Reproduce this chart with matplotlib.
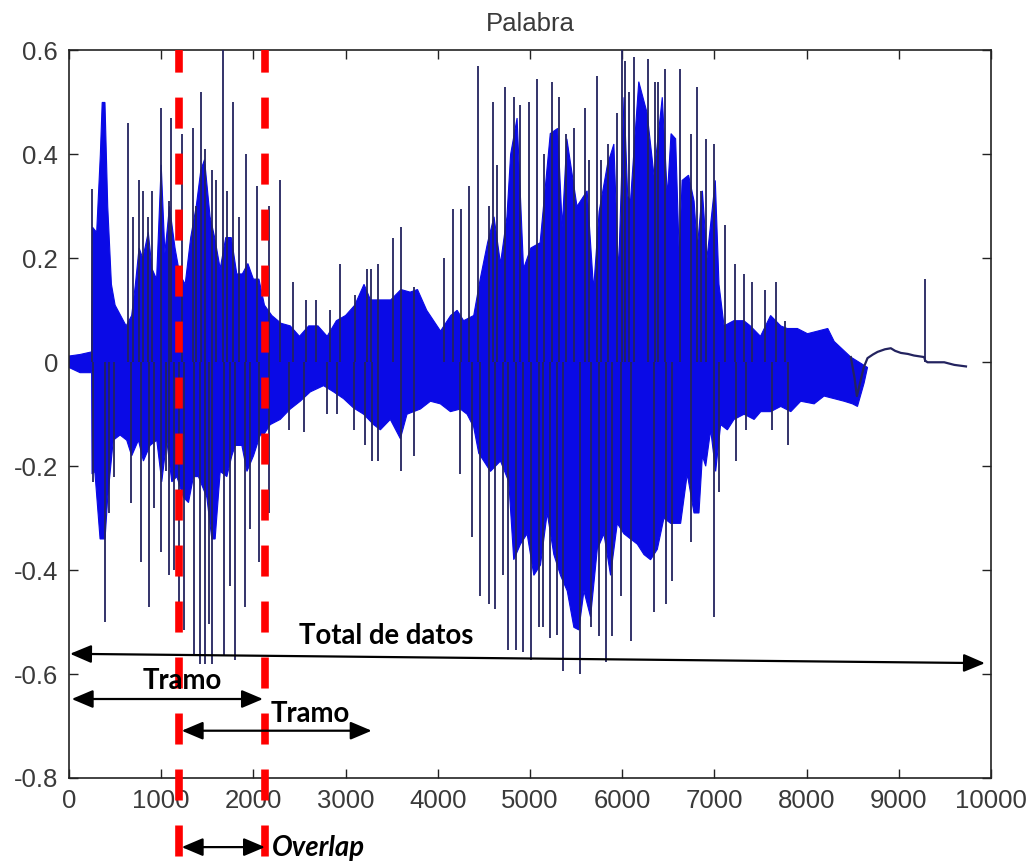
import matplotlib
matplotlib.use("Agg")
import matplotlib.pyplot as plt
import matplotlib.transforms as mtransforms

# envolvente superior del nucleo denso (muestra, amplitud)
up_x = [0, 120, 245, 255, 300, 340, 360, 390, 420, 460, 500, 560, 620, 680, 720, 760, 800, 860, 900, 950,
        1000, 1040, 1090, 1150, 1200, 1260, 1320, 1380, 1430, 1470, 1530, 1580, 1640, 1700, 1760, 1820,
        1880, 1940, 2000, 2060, 2120, 2200, 2300, 2400, 2500, 2600, 2700, 2800, 2900, 3000, 3100, 3200,
        3270, 3380, 3490, 3600, 3700, 3780, 3880, 4030, 4140, 4210, 4280, 4390, 4460, 4540, 4610, 4680,
        4750, 4790, 4860, 4930, 5010, 5110, 5220, 5300, 5350, 5400, 5510, 5620, 5690, 5750, 5840, 5910,
        5960, 6020, 6060, 6090, 6180, 6270, 6345, 6435, 6490, 6530, 6580, 6620, 6650, 6720, 6780, 6815,
        6870, 6920, 7010, 7050, 7105, 7210, 7320, 7390, 7500, 7610, 7720, 7790, 7900, 8010, 8120, 8230,
        8300, 8390, 8480]
up_y = [0.012, 0.015, 0.02, 0.26, 0.25, 0.40, 0.50, 0.50, 0.30, 0.15, 0.11, 0.09, 0.07, 0.09, 0.15, 0.22,
        0.20, 0.25, 0.18, 0.16, 0.38, 0.21, 0.30, 0.22, 0.17, 0.15, 0.24, 0.30, 0.37, 0.39, 0.28, 0.24,
        0.18, 0.24, 0.24, 0.17, 0.17, 0.19, 0.16, 0.16, 0.11, 0.09, 0.075, 0.07, 0.05, 0.07, 0.07, 0.05,
        0.08, 0.09, 0.11, 0.15, 0.12, 0.12, 0.12, 0.14, 0.135, 0.14, 0.10, 0.06, 0.09, 0.10, 0.08, 0.09,
        0.16, 0.23, 0.28, 0.19, 0.28, 0.40, 0.47, 0.18, 0.22, 0.23, 0.44, 0.45, 0.26, 0.43, 0.30, 0.33,
        0.14, 0.29, 0.38, 0.42, 0.17, 0.51, 0.32, 0.31, 0.54, 0.48, 0.36, 0.51, 0.32, 0.44, 0.43, 0.20,
        0.35, 0.36, 0.31, 0.22, 0.33, 0.20, 0.35, 0.15, 0.07, 0.08, 0.08, 0.07, 0.05, 0.09, 0.07, 0.065,
        0.065, 0.055, 0.06, 0.065, 0.04, 0.025, 0.01]

# envolvente inferior del nucleo denso
lo_x = [0, 120, 245, 250, 280, 337, 391, 420, 480, 554, 626, 680, 753, 807, 879, 952, 1006, 1060, 1115,
        1170, 1241, 1296, 1350, 1404, 1495, 1549, 1585, 1640, 1712, 1766, 1803, 1875, 1930, 2001, 2074,
        2110, 2182, 2291, 2400, 2508, 2617, 2761, 2870, 2978, 3087, 3196, 3304, 3377, 3485, 3594, 3666,
        3811, 3920, 4028, 4137, 4245, 4318, 4390, 4444, 4499, 4571, 4680, 4770, 4824, 4897, 4969, 5042,
        5114, 5187, 5259, 5331, 5404, 5476, 5530, 5585, 5657, 5730, 5802, 5874, 5947, 6019, 6091, 6164,
        6236, 6308, 6381, 6453, 6526, 6598, 6634, 6706, 6779, 6833, 6870, 6906, 6960, 7014, 7068, 7141,
        7213, 7322, 7431, 7503, 7611, 7720, 7829, 7937, 8082, 8190, 8299, 8408, 8498, 8552, 8624, 8661]
lo_y = [-0.01, -0.02, -0.02, -0.215, -0.21, -0.34, -0.34, -0.26, -0.15, -0.14, -0.15, -0.18, -0.15,
        -0.19, -0.16, -0.15, -0.23, -0.15, -0.23, -0.22, -0.26, -0.27, -0.22, -0.22, -0.26, -0.34, -0.34,
        -0.21, -0.22, -0.18, -0.16, -0.16, -0.21, -0.18, -0.14, -0.14, -0.12, -0.11, -0.09, -0.075,
        -0.057, -0.045, -0.057, -0.07, -0.088, -0.10, -0.12, -0.13, -0.11, -0.147, -0.10, -0.09, -0.075,
        -0.08, -0.095, -0.09, -0.10, -0.125, -0.175, -0.19, -0.21, -0.19, -0.23, -0.38, -0.35, -0.33,
        -0.41, -0.39, -0.29, -0.37, -0.41, -0.44, -0.51, -0.515, -0.44, -0.49, -0.36, -0.33, -0.41, -0.31,
        -0.33, -0.34, -0.35, -0.37, -0.38, -0.36, -0.30, -0.31, -0.31, -0.31, -0.215, -0.29, -0.29, -0.18,
        -0.20, -0.13, -0.21, -0.12, -0.13, -0.11, -0.10, -0.11, -0.095, -0.095, -0.085, -0.095, -0.075,
        -0.08, -0.065, -0.07, -0.075, -0.08, -0.085, -0.04, -0.01]

# picos positivos aislados
pk_up_x = [253, 644, 691, 764, 807, 861, 905, 999, 1089, 1108, 1223, 1343, 1379, 1430, 1477, 1549, 1596,
           1669, 1712, 1777, 1839, 1918, 2038, 2164, 2284, 2425, 2573, 2679, 2834, 2935, 3105, 3232, 3279,
           3348, 3510, 3605, 3746, 4064, 4162, 4253, 4343, 4434, 4553, 4600, 4643, 4734, 4832, 4897, 4987,
           5078, 5150, 5241, 5313, 5386, 5476, 5592, 5639, 5730, 5769, 5849, 5940, 6000, 6030, 6073, 6127,
           6283, 6355, 6390, 6464, 6627, 6743, 6815, 6855, 6906, 6996, 7112, 7220, 7322, 7413, 7550, 7666,
           7764, 9287]
pk_up_y = [0.334, 0.46, 0.28, 0.35, 0.33, 0.28, 0.33, 0.49, 0.31, 0.47, 0.44, 0.45, 0.30, 0.52, 0.41, 0.37,
           0.35, 0.60, 0.33, 0.50, 0.28, 0.40, 0.34, 0.30, 0.35, 0.155, 0.12, 0.12, 0.10, 0.19, 0.13, 0.18,
           0.18, 0.19, 0.24, 0.26, 0.145, 0.20, 0.295, 0.295, 0.34, 0.57, 0.30, 0.50, 0.38, 0.53, 0.51,
           0.495, 0.50, 0.546, 0.40, 0.54, 0.51, 0.44, 0.45, 0.49, 0.39, 0.55, 0.39, 0.42, 0.48, 0.60, 0.58,
           0.52, 0.587, 0.583, 0.54, 0.54, 0.564, 0.564, 0.44, 0.53, 0.33, 0.43, 0.42, 0.265, 0.19, 0.17,
           0.155, 0.14, 0.155, 0.08, 0.16]

# picos negativos aislados
pk_lo_x = [264, 391, 438, 492, 670, 782, 872, 926, 995, 1049, 1086, 1140, 1198, 1249, 1361, 1422, 1477,
           1521, 1549, 1686, 1748, 1803, 1911, 1966, 2056, 2164, 2381, 2544, 2798, 2906, 3087, 3214, 3286,
           3348, 3601, 3739, 4245, 4372, 4463, 4553, 4618, 4709, 4763, 4843, 4922, 5013, 5103, 5139, 5215,
           5295, 5360, 5541, 5657, 5747, 5820, 5893, 5983, 6098, 6345, 6471, 6537, 6750, 6996, 7050, 7231,
           7340, 7629, 7803]
pk_lo_y = [-0.23, -0.50, -0.29, -0.22, -0.27, -0.385, -0.47, -0.28, -0.366, -0.21, -0.41, -0.40, -0.465,
           -0.515, -0.564, -0.58, -0.58, -0.503, -0.58, -0.564, -0.43, -0.573, -0.47, -0.32, -0.385, -0.29,
           -0.13, -0.135, -0.10, -0.10, -0.13, -0.16, -0.19, -0.19, -0.21, -0.18, -0.215, -0.337, -0.45,
           -0.465, -0.475, -0.41, -0.554, -0.554, -0.557, -0.573, -0.51, -0.51, -0.53, -0.525, -0.595,
           -0.60, -0.51, -0.527, -0.577, -0.527, -0.45, -0.536, -0.48, -0.465, -0.42, -0.346, -0.49, -0.25,
           -0.19, -0.13, -0.13, -0.16]

# cola final de la senal
tail_x = [8480, 8520, 8546, 8580, 8620, 8661, 8720, 8770, 8850, 8914, 8960, 9023, 9100, 9165, 9276, 9287,
          9312, 9493, 9602, 9729]
tail_y = [0.01, -0.03, -0.065, -0.04, -0.01, 0.008, 0.015, 0.02, 0.025, 0.027, 0.022, 0.018, 0.016, 0.013,
          0.01, 0.003, 0.0, 0.0, -0.005, -0.008]

x_ticks = [0, 1000, 2000, 3000, 4000, 5000, 6000, 7000, 8000, 9000, 10000]
y_ticks = [-0.8, -0.6, -0.4, -0.2, 0, 0.2, 0.4, 0.6]
y_tick_labels = ["-0.8", "-0.6", "-0.4", "-0.2", "0", "0.2", "0.4", "0.6"]

cortes = [1193, 2126]  # limites de los tramos

blue = "#0a0ae6"
navy = "#23235f"

fig = plt.figure(figsize=(10.33, 8.63), dpi=100)
ax = fig.add_axes([0.0668, 0.0985, 0.8925, 0.843])

# nucleo denso
ax.fill(up_x + lo_x[::-1], up_y + lo_y[::-1], facecolor=blue, edgecolor=blue, linewidth=0.8, zorder=2)
ax.vlines(pk_up_x, 0, pk_up_y, color=navy, linewidth=1.3, zorder=3)
ax.vlines(pk_lo_x, 0, pk_lo_y, color=navy, linewidth=1.3, zorder=3)
ax.plot(tail_x, tail_y, color=navy, linewidth=1.6, zorder=3)

ax.set_xlim(0, 10000)
ax.set_ylim(-0.8, 0.6)
ax.set_xticks(x_ticks)
ax.set_xticklabels([str(t) for t in x_ticks])
ax.set_yticks(y_ticks)
ax.set_yticklabels(y_tick_labels)

tick_font = {"family": "Liberation Sans", "size": 18.5}
for lab in ax.get_xticklabels() + ax.get_yticklabels():
    lab.set_fontfamily("Liberation Sans")
    lab.set_fontsize(18.5)
    lab.set_color("#3a3a3a")
ax.tick_params(direction="in", length=6.5, width=1, top=True, right=True, pad=8, colors="#222222",
               labelcolor="#3a3a3a")
for sp in ax.spines.values():
    sp.set_linewidth(1.2)
    sp.set_color("#222222")

ax.set_title("Palabra", fontdict=tick_font, color="#3a3a3a", pad=14)

# lineas rojas discontinuas
trans = mtransforms.blended_transform_factory(ax.transData, ax.transAxes)
for c in cortes:
    ax.plot([c, c], [1.0, -0.1127], transform=trans, color="#ff0000", linewidth=5.5,
            linestyle=(1.1, (4.06, 3.27)), clip_on=False, zorder=5)

# flechas
arrow_kw = dict(arrowstyle="<|-|>,head_length=1.3,head_width=0.55", color="black", lw=1.6,
                shrinkA=0, shrinkB=0)
flechas = [((11, -0.561), (9935, -0.579)),
           ((29, -0.648), (2104, -0.648)),
           ((1222, -0.709), (3283, -0.709)),
           ((1222, -0.933), (2126, -0.933))]
for a, b in flechas:
    ax.annotate("", xy=b, xytext=a, arrowprops=arrow_kw, annotation_clip=False, zorder=6)

txt_kw = dict(family="Lato", weight="bold", size=19.8, color="black", zorder=7, clip_on=False)
ax.text(3438, -0.526, "Total de datos", ha="center", va="center", **txt_kw)
ax.text(1226, -0.614, "Tramo", ha="center", va="center", **txt_kw)
ax.text(2614, -0.676, "Tramo", ha="center", va="center", **txt_kw)
ax.text(2202, -0.934, "Overlap", ha="left", va="center", style="italic", **txt_kw)

fig.savefig("out.png", dpi=100, facecolor="white")
